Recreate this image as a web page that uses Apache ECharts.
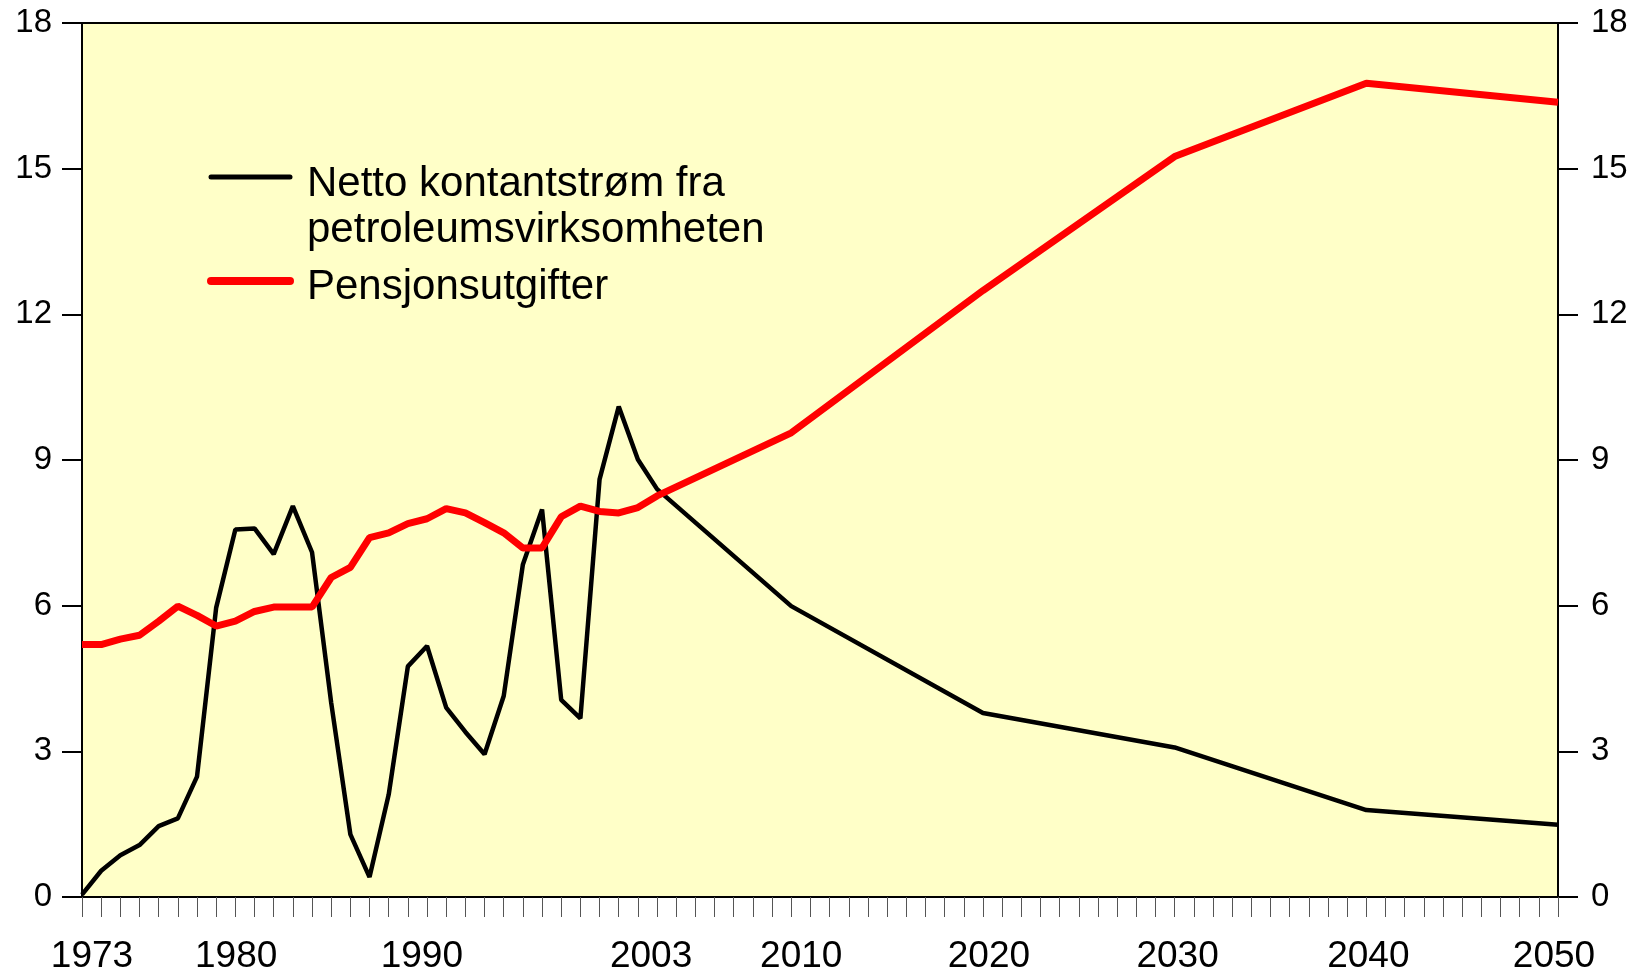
<!DOCTYPE html>
<html>
<head>
<meta charset="utf-8">
<script src="https://cdn.jsdelivr.net/npm/echarts@6/dist/echarts.min.js"></script>
<style>
html, body { margin: 0; padding: 0; background: #fff; }
#chart { width: 1641px; height: 975px; }
</style>
</head>
<body>
<div id="chart"></div>
<script>
// år (årlig fram til 2003, deretter hvert tiende år)
var aar = [1973, 1974, 1975, 1976, 1977, 1978, 1979, 1980, 1981, 1982,
           1983, 1984, 1985, 1986, 1987, 1988, 1989, 1990, 1991, 1992,
           1993, 1994, 1995, 1996, 1997, 1998, 1999, 2000, 2001, 2002,
           2003, 2010, 2020, 2030, 2040, 2050];

// Netto kontantstrøm fra petroleumsvirksomheten
var netto = [0.05, 0.54, 0.86, 1.07, 1.46, 1.62, 2.48, 5.96, 7.57, 7.59,
             7.06, 8.05, 7.10, 4.00, 1.29, 0.41, 2.11, 4.75, 5.17, 3.90,
             3.40, 2.94, 4.14, 6.85, 7.98, 4.06, 3.68, 8.60, 10.10, 9.01,
             8.40, 5.99, 3.79, 3.08, 1.79, 1.49];

// Pensjonsutgifter
var pensjon = [5.20, 5.20, 5.31, 5.39, 5.68, 5.99, 5.80, 5.58, 5.68, 5.88,
               5.97, 5.97, 5.97, 6.58, 6.79, 7.40, 7.50, 7.69, 7.79, 8.00,
               7.91, 7.71, 7.50, 7.19, 7.19, 7.83, 8.05, 7.94, 7.91, 8.02,
               8.26, 9.56, 12.49, 15.25, 16.76, 16.37];

// årstall som vises under x-aksen
var aarEtiketter = [1973, 1980, 1990, 2003, 2010, 2020, 2030, 2040, 2050];

// y-akse: min, maks, steg
var yMin = 0, yMaks = 18, ySteg = 3;

var navnNetto = 'Netto kontantstrøm fra petroleumsvirksomheten';
var navnPensjon = 'Pensjonsutgifter';

var font = '"Liberation Sans", Arial, sans-serif';

// litt forskyvning av etikettene slik som i originalen
var forskyv = {1973: 10, 1980: 20, 1990: 14, 2003: -6, 2010: 10, 2020: 6, 2030: 3, 2040: 2, 2050: -4};

const lagPar = (xs, ys) => xs.map((x, i) => [x, ys[i]]);

const lagRich = () => {
    var rich = {};
    aarEtiketter.forEach(function (a) {
        var d = forskyv[a] || 0;
        rich['a' + a] = {
            fontSize: 37,
            fontFamily: font,
            color: '#000',
            padding: d >= 0 ? [0, 0, 0, 2 * d] : [0, -2 * d, 0, 0]
        };
    });
    return rich;
};

const yAkse = (pos, marg) => ({
    type: 'value',
    position: pos,
    min: yMin,
    max: yMaks,
    interval: ySteg,
    axisLine: { show: true, lineStyle: { color: '#000', width: 2 } },
    axisTick: { show: true, length: 20, lineStyle: { color: '#000', width: 2 } },
    axisLabel: { margin: marg, fontSize: 33, fontFamily: font, color: '#000' },
    splitLine: { show: false }
});

const getOption = () => ({
    animation: false,
    backgroundColor: '#fff',
    grid: {
        left: 82,
        right: 83,
        top: 23,
        bottom: 77,
        show: true,
        backgroundColor: '#FFFFC8',
        borderColor: '#000',
        borderWidth: 2
    },
    xAxis: {
        type: 'value',
        min: 1973,
        max: 2050,
        interval: 1,
        axisLine: { show: true, onZero: false, lineStyle: { color: '#000', width: 2 } },
        axisTick: { show: true, length: 20, lineStyle: { color: '#555', width: 1 } },
        axisLabel: {
            margin: 41,
            fontSize: 37,
            fontFamily: font,
            color: '#000',
            formatter: function (v) {
                return aarEtiketter.indexOf(v) >= 0 ? '{a' + v + '|' + v + '}' : '';
            },
            rich: lagRich()
        },
        splitLine: { show: false }
    },
    yAxis: [yAkse('left', 30), yAkse('right', 33)],
    series: [
        {
            name: navnNetto,
            type: 'line',
            data: lagPar(aar, netto),
            showSymbol: false,
            symbol: 'none',
            lineStyle: { color: '#000', width: 4.5 },
            z: 3
        },
        {
            name: navnPensjon,
            type: 'line',
            data: lagPar(aar, pensjon),
            showSymbol: false,
            symbol: 'none',
            lineStyle: { color: '#FF0000', width: 7 },
            z: 4
        }
    ],
    // tegnforklaring
    graphic: [
        { type: 'line', shape: { x1: 211, y1: 177, x2: 290, y2: 177 },
          style: { stroke: '#000', lineWidth: 5, lineCap: 'round' } },
        { type: 'text', x: 307, y: 184,
          style: { text: 'Netto kontantstrøm fra', font: '42px ' + font, fill: '#000', verticalAlign: 'middle' } },
        { type: 'text', x: 307, y: 230,
          style: { text: 'petroleumsvirksomheten', font: '42px ' + font, fill: '#000', verticalAlign: 'middle' } },
        { type: 'line', shape: { x1: 211, y1: 281, x2: 290, y2: 281 },
          style: { stroke: '#FF0000', lineWidth: 8, lineCap: 'round' } },
        { type: 'text', x: 307, y: 287,
          style: { text: navnPensjon, font: '42px ' + font, fill: '#000', verticalAlign: 'middle' } }
    ]
});

const initChart = () => {
    var chart = echarts.init(document.getElementById('chart'));
    chart.setOption(getOption());
};

initChart();
</script>
</body>
</html>
